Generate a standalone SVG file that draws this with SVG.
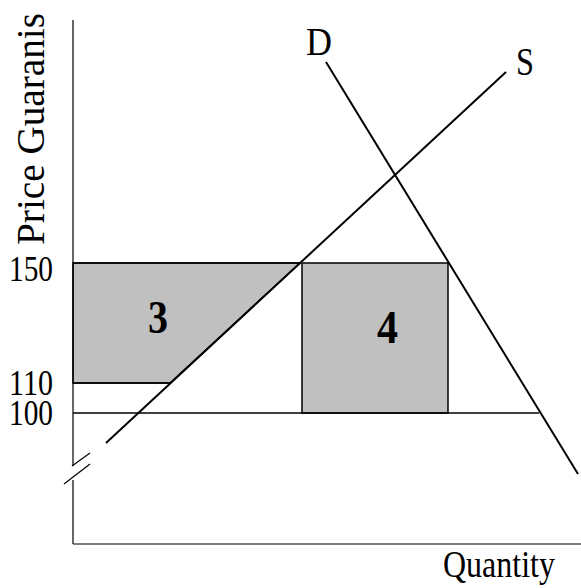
<svg xmlns="http://www.w3.org/2000/svg" width="581" height="588" viewBox="0 0 581 588">
<style>
text{font-family:"Liberation Serif","Times New Roman",serif;fill:#000}
.lbl{font-size:40px}
.num{font-size:36px}
.big{font-size:46px;font-weight:bold}
.ax{stroke:#000;stroke-width:1.2;fill:none}
.curve{stroke:#000;stroke-width:2;fill:none}
.area{fill:#c0c0c0;stroke:#000;stroke-width:1.5}
.grid{stroke:#000;stroke-width:1.3;fill:none}
</style>
<rect width="581" height="588" fill="#fff"/>
<g id="area3">
<polygon class="area" points="73,263 300,263 170,383 73,383" stroke="none"/>
<line class="grid" x1="73" y1="263" x2="300" y2="263"/>
<line class="grid" x1="73" y1="383" x2="170" y2="383"/>
<text class="big" x="148" y="333" textLength="20" lengthAdjust="spacingAndGlyphs">3</text>
</g>
<g id="area4">
<rect class="area" x="302" y="263" width="146" height="150"/>
<text class="big" x="377" y="343" textLength="21" lengthAdjust="spacingAndGlyphs">4</text>
</g>
<g id="axes">
<line class="ax" x1="73" y1="20" x2="73" y2="466"/>
<line class="ax" x1="73" y1="480" x2="73" y2="544"/>
<line class="ax" x1="73" y1="544" x2="581" y2="544"/>
<line class="ax" x1="72" y1="466" x2="90" y2="453"/>
<line class="ax" x1="64" y1="484" x2="90" y2="464"/>
<text class="lbl" transform="translate(44,245) rotate(-90)" textLength="232" lengthAdjust="spacingAndGlyphs">Price Guaranis</text>
<text class="lbl" x="443" y="577" style="font-size:38px" textLength="112" lengthAdjust="spacingAndGlyphs">Quantity</text>
<text class="num" x="9" y="281" textLength="44" lengthAdjust="spacingAndGlyphs">150</text>
<text class="num" x="9" y="395" textLength="44" lengthAdjust="spacingAndGlyphs">110</text>
<text class="num" x="9" y="425" textLength="44" lengthAdjust="spacingAndGlyphs">100</text>
</g>
<g id="connectors">
<line class="grid" x1="73" y1="413" x2="539" y2="413"/>
<line class="curve" x1="106" y1="443" x2="506" y2="72"/>
<line class="curve" x1="326" y1="62" x2="578" y2="474"/>
</g>
<g id="labelD"><text class="lbl" x="306" y="55" textLength="26" lengthAdjust="spacingAndGlyphs">D</text></g>
<g id="labelS"><text class="lbl" x="516" y="75" textLength="18" lengthAdjust="spacingAndGlyphs">S</text></g>
</svg>
